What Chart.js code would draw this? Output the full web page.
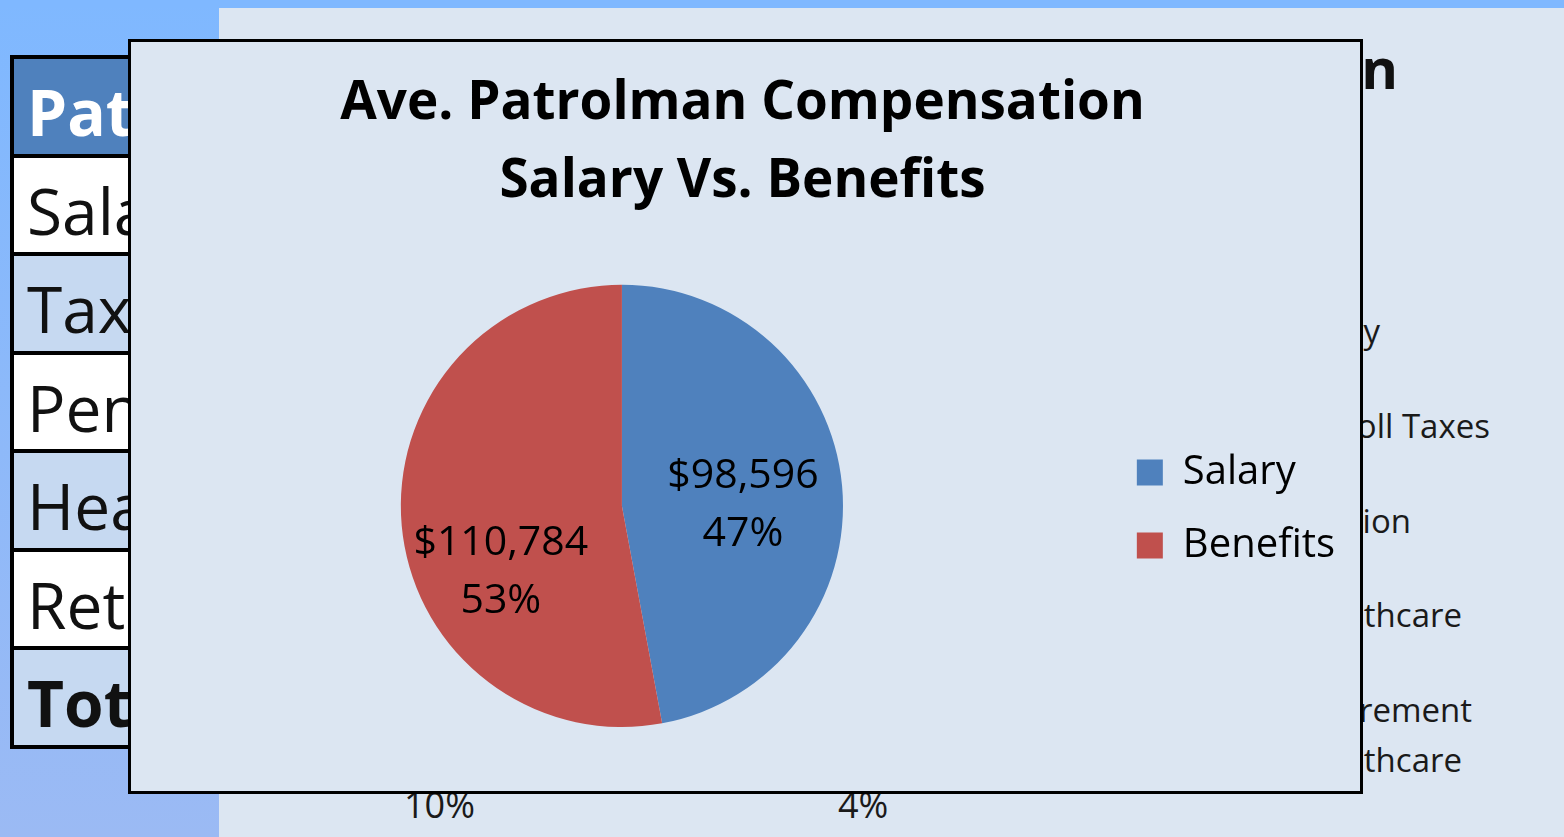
<!DOCTYPE html>
<html>
<head>
<meta charset="utf-8">
<title>Ave. Patrolman Compensation</title>
<script src="https://cdn.jsdelivr.net/npm/chart.js@4.4.1/dist/chart.umd.min.js"></script>
<style>
  body { margin: 0; width: 1564px; height: 837px; overflow: hidden; position: relative;
         background: #dce6f2; font-family: "Open Sans", sans-serif; color: #111; }
  #topbar { position: absolute; left: 0; top: 0; width: 1564px; height: 8px; background: #7fb8ff; }
  #side { position: absolute; left: 0; top: 0; width: 219px; height: 837px;
          background: linear-gradient(#7fb8ff, #9bbaf4); }
  #table { position: absolute; left: 10px; top: 55px; width: 600px; border: 4px solid #000; }
  #table div { height: 94.5px; line-height: 106px; font-size: 64px; padding-left: 13px;
               border-bottom: 4px solid #000; white-space: nowrap; overflow: hidden; }
  #table div:last-child { border-bottom: none; }
  #table .head { background: #4f81bd; color: #fff; font-weight: bold; }
  #table .odd { background: #fff; }
  #table .even { background: #c6d9f1; }
  #table .bold { font-weight: bold; }
  .back { position: absolute; white-space: nowrap; font-size: 33px; color: #1a1a1a; }
  .pct { font-size: 36px; }
  #slideTitle { position: absolute; right: 166px; top: 29px; font-size: 56px; font-weight: bold; white-space: nowrap; }
  #chartBox { position: absolute; left: 128px; top: 39px; width: 1229px; height: 749px;
              border: 3px solid #000; background: #dce6f2; z-index: 2; }
</style>
</head>
<body>
<div id="side"></div>
<div id="topbar"></div>

<div id="table">
  <div class="head">Patrolman</div>
  <div class="odd">Salary</div>
  <div class="even">Taxes</div>
  <div class="odd">Pension</div>
  <div class="even">Healthcare</div>
  <div class="odd">Retirement</div>
  <div class="even bold">Total</div>
</div>

<div id="slideTitle">Patrolman Compensation</div>
<div class="back" style="right:184px;top:308px">Salary</div>
<div class="back" style="right:74px;top:403px">Payroll Taxes</div>
<div class="back" style="right:153px;top:498px">Pension</div>
<div class="back" style="right:102px;top:592px">Healthcare</div>
<div class="back" style="right:92px;top:687px">Retirement</div>
<div class="back" style="right:102px;top:737px">Healthcare</div>
<div class="back pct" style="left:404px;top:780px">10%</div>
<div class="back pct" style="left:838px;top:780px">4%</div>

<div id="chartBox"><canvas id="pie" width="1229" height="749"></canvas></div>

<script>
// chart data
const categories = ['Salary', 'Benefits'];
const amounts = [98596, 110784];
const sliceColors = ['#4f81bd', '#c0504d'];
const titleLines = ['Ave. Patrolman Compensation', 'Salary Vs. Benefits'];

// value + percent labels inside the slices
const sliceLabels = {
  id: 'sliceLabels',
  afterDatasetsDraw(chart, args, opts) {
    const ctx = chart.ctx;
    const meta = chart.getDatasetMeta(0);
    const data = chart.data.datasets[0].data;
    const total = data.reduce((a, b) => a + b, 0);
    ctx.save();
    ctx.font = opts.font;
    ctx.fillStyle = opts.color;
    ctx.textAlign = 'center';
    ctx.textBaseline = 'middle';
    meta.data.forEach((arc, i) => {
      const p = arc.getProps(['x', 'y', 'startAngle', 'endAngle', 'outerRadius'], true);
      const mid = (p.startAngle + p.endAngle) / 2;
      const r = p.outerRadius * opts.radiusFraction;
      const lx = p.x + Math.cos(mid) * r;
      const ly = p.y + Math.sin(mid) * r + (opts.shiftY[i] || 0);
      ctx.fillText('$' + data[i].toLocaleString('en-US'), lx, ly - opts.lineGap / 2);
      ctx.fillText(Math.round(data[i] / total * 100) + '%', lx, ly + opts.lineGap / 2);
    });
    ctx.restore();
  }
};

const pieChart = new Chart(document.getElementById('pie'), {
  type: 'pie',
  data: {
    labels: categories,
    datasets: [{
      data: amounts,
      backgroundColor: sliceColors,
      borderWidth: 0
    }]
  },
  options: {
    responsive: false,
    devicePixelRatio: 1,
    animation: false,
    layout: { padding: { left: 9, right: 15, top: 0, bottom: 64 } },
    plugins: {
      title: {
        display: true,
        text: titleLines,
        color: '#000',
        font: { family: 'Open Sans', size: 53, weight: 'bold', lineHeight: 1.47 },
        padding: { top: 23, bottom: 64 }
      },
      legend: {
        position: 'right',
        // empty legend title only used to push the items down
        title: { display: true, text: ' ', font: { size: 10, lineHeight: 1 }, padding: { top: 239, bottom: 0 } },
        labels: {
          color: '#000',
          font: { family: 'Open Sans', size: 40 },
          boxWidth: 26,
          boxHeight: 26,
          padding: 33
        }
      },
      tooltip: { enabled: false },
      sliceLabels: {
        font: '41px "Open Sans"',
        color: '#000',
        radiusFraction: 0.55,
        lineGap: 58,
        shiftY: [11, 55]
      }
    }
  },
  plugins: [sliceLabels]
});
</script>
</body>
</html>
